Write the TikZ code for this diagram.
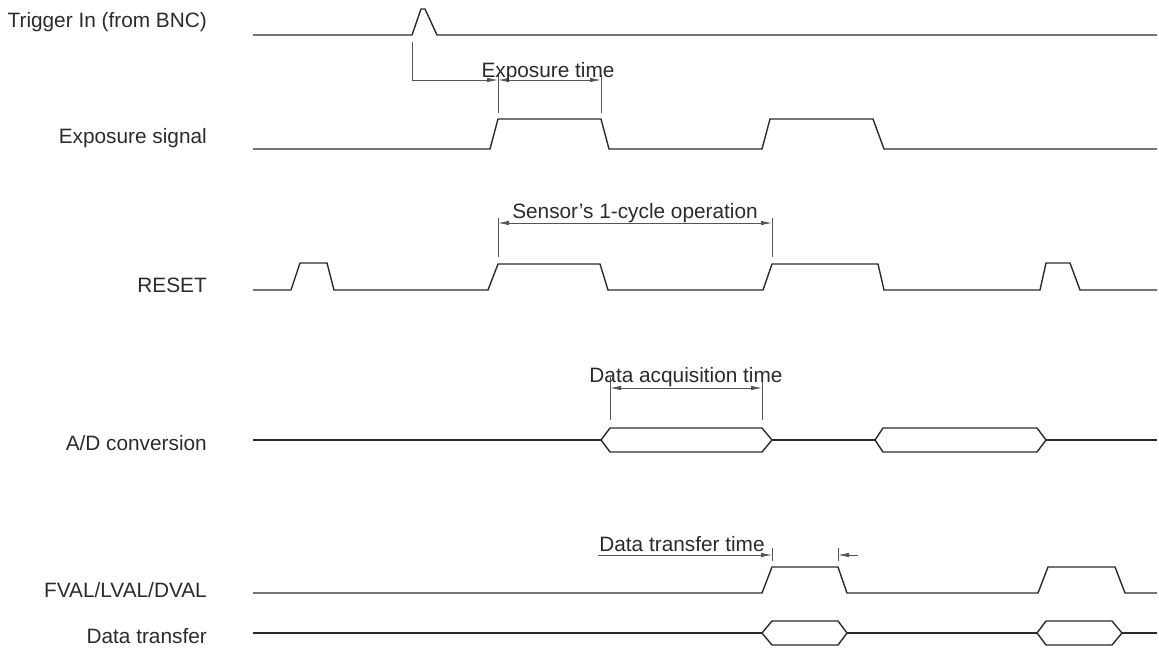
\documentclass[tikz,border=0pt]{standalone}
\usepackage{fontspec}
\setmainfont{Liberation Sans}
\usepackage{tikz}
\usetikzlibrary{arrows.meta}
\definecolor{ink}{HTML}{2B2B2B}
\definecolor{dimgray}{HTML}{555555}
\tikzset{wave/.style = {draw=ink, line width=1.4pt, line join=miter}}
\tikzset{tick/.style = {draw=dimgray, line width=0.8pt}}
\tikzset{dimto/.style = {tick, -{Latex[length=11pt,width=4.5pt]}}}
\tikzset{dimboth/.style = {tick, {Latex[length=11pt,width=4.5pt]}-{Latex[length=11pt,width=4.5pt]}}}
\tikzset{signame/.style = {anchor=east, text=ink, inner sep=0, font=\fontsize{20.8}{24}\selectfont}}
\tikzset{dimtext/.style = {anchor=base, text=ink, inner sep=0, font=\fontsize{20.8}{24}\selectfont}}

\begin{document}
\begin{tikzpicture}[x=1pt, y=-1pt]
    \useasboundingbox (0, 0) rectangle (1159, 662);

    % signal names
    \node [signame] (trig) at (207, 22) {Trigger In (from BNC)};
    \node [signame] (expo) at (207, 138) {Exposure signal};
    \node [signame] (reset) at (207, 285) {RESET};
    \node [signame] (adc) at (207, 443) {A/D conversion};
    \node [signame] (fval) at (207, 590) {FVAL/LVAL/DVAL};
    \node [signame] (xfer) at (207, 636) {Data transfer};

    % waveforms
    \draw [wave] (253, 35) -- (412, 35) -- (421, 9) -- (425, 9) -- (437, 35) -- (1157, 35);
    \draw [wave] (253, 149) -- (490, 149) -- (498, 119) -- (601, 119) -- (609, 149)
        -- (762, 149) -- (770, 119) -- (873, 119) -- (884, 149) -- (1157, 149);
    \draw [wave] (253, 290) -- (291, 290) -- (300, 263) -- (327, 263) -- (334, 290)
        -- (488, 290) -- (498, 264) -- (600, 264) -- (608, 290)
        -- (763, 290) -- (772, 264) -- (878, 264) -- (884, 290)
        -- (1040, 290) -- (1046, 263) -- (1070, 263) -- (1080, 290) -- (1157, 290);

    \draw [wave] (253, 440) -- (601, 440);
    \draw [wave] (601, 440) -- (610, 428) -- (762, 428) -- (772, 440) -- (762, 452) -- (610, 452) -- cycle;
    \draw [wave] (772, 440) -- (875, 440);
    \draw [wave] (875, 440) -- (883, 428) -- (1037, 428) -- (1046, 440) -- (1037, 452) -- (883, 452) -- cycle;
    \draw [wave] (1046, 440) -- (1157, 440);

    \draw [wave] (253, 593) -- (762, 593) -- (772, 567) -- (838, 567) -- (847, 593)
        -- (1038, 593) -- (1048, 567) -- (1115, 567) -- (1125, 593) -- (1157, 593);

    \draw [wave] (253, 633) -- (762, 633);
    \draw [wave] (762, 633) -- (772, 621) -- (838, 621) -- (847, 633) -- (838, 645) -- (772, 645) -- cycle;
    \draw [wave] (847, 633) -- (1037, 633);
    \draw [wave] (1037, 633) -- (1046, 621) -- (1112, 621) -- (1122, 633) -- (1112, 645) -- (1046, 645) -- cycle;
    \draw [wave] (1122, 633) -- (1157, 633);

    % exposure time
    \coordinate (trig-foot) at (412, 42);
    \coordinate (trig-bend) at (412, 80);
    \coordinate (exp-a) at (498, 80);
    \coordinate (exp-b) at (601, 80);
    \draw [tick] (498, 75) -- (498, 113);
    \draw [tick] (601, 75) -- (601, 113);
    \draw [tick] (trig-foot) -- (trig-bend);
    \draw [dimto] (trig-bend) -- (exp-a);
    \draw [dimboth] (exp-a) -- (exp-b);
    \node [dimtext] (exptime) at (548, 77) {Exposure time};

    % sensor cycle
    \coordinate (cyc-a) at (498, 223);
    \coordinate (cyc-b) at (772, 223);
    \draw [tick] (498, 218) -- (498, 257);
    \draw [tick] (772, 218) -- (772, 257);
    \draw [dimboth] (cyc-a) -- (cyc-b);
    \node [dimtext] (cycle) at (635, 218) {Sensor’s 1-cycle operation};

    % data acquisition
    \coordinate (acq-a) at (610, 388);
    \coordinate (acq-b) at (762, 388);
    \draw [tick] (610, 377) -- (610, 420);
    \draw [tick] (762, 377) -- (762, 420);
    \draw [dimboth] (acq-a) -- (acq-b);
    \node [dimtext] (acq) at (686, 382) {Data acquisition time};

    % data transfer
    \coordinate (xfer-in) at (598, 555);
    \coordinate (xfer-a) at (772, 555);
    \coordinate (xfer-b) at (838, 555);
    \coordinate (xfer-out) at (858, 555);
    \draw [tick] (772, 548) -- (772, 561);
    \draw [tick] (838, 548) -- (838, 561);
    \draw [dimto] (xfer-in) -- (xfer-a);
    \draw [dimto] (xfer-out) -- (xfer-b);
    \node [dimtext] (xfertime) at (682, 551) {Data transfer time};
\end{tikzpicture}
\end{document}
